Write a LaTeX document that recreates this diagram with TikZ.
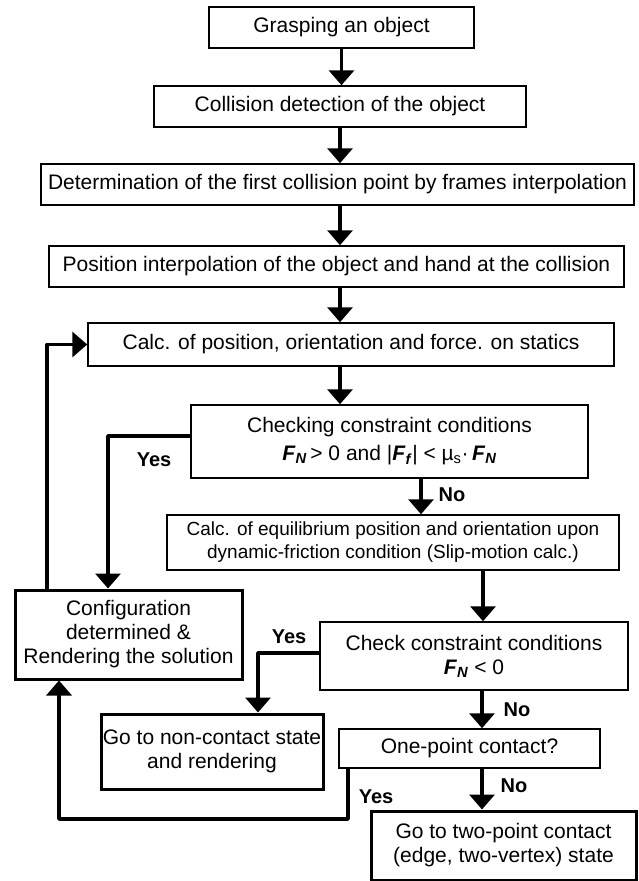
\documentclass[tikz,border=0pt]{standalone}
\usepackage{fontspec}
\setmainfont{Liberation Sans}
\usetikzlibrary{arrows.meta}
\newcommand{\FN}{\textbf{\textit{F}\textsubscript{\textit{N}}}}
\newcommand{\Ff}{\textbf{\textit{F}\textsubscript{\textit{f}}}}

\begin{document}
\begin{tikzpicture}[x=1pt, y=-1pt,
  box/.style={draw, line width=1.5pt, align=center, inner sep=0pt, font=\fontsize{21}{24}\selectfont},
  boldbox/.style={box, line width=3pt},
  arr/.style={line width=3.5pt, line join=round, -{Triangle[width=25pt,length=15pt]}},
  lbl/.style={font=\fontsize{20}{24}\selectfont\bfseries}]
  \useasboundingbox (0,0) rectangle (638,881);
  \node[box, minimum width=265pt, minimum height=41pt] (grasp) at (341.5,27.5) {Grasping an object};
  \node[box, minimum width=372pt, minimum height=41pt] (detect) at (340,106.5) {Collision detection of the object};
  \node[box, minimum width=593pt, minimum height=41pt] (firstpt) at (337.5,184.5) {Determination of the first collision point by frames interpolation};
  \node[box, minimum width=575pt, minimum height=41pt] (interp) at (336.5,266.5) {Position interpolation of the object and hand at the collision};
  \node[box, minimum width=526pt, minimum height=43pt] (statics) at (351,344.5) {Calc. of position, orientation and force. on statics};
  \node[box, minimum width=397pt, minimum height=73pt] (check) at (389.5,441.5) {Checking constraint conditions\\[4pt] \FN\,> 0 and |\Ff| < µ\textsubscript{s}·\,\FN};
  \node[box, minimum width=452pt, minimum height=55pt, font=\fontsize{19}{23}\selectfont] (slip) at (393,542.5) {Calc. of equilibrium position and orientation upon\\ dynamic-friction condition (Slip-motion calc.)};
  \node[boldbox, minimum width=227pt, minimum height=89pt] (config) at (128.5,634.5) {Configuration\\ determined \&\\ Rendering the solution};
  \node[box, minimum width=308pt, minimum height=68pt] (fncheck) at (474,656) {Check constraint conditions\\ \FN\ < 0};
  \node[boldbox, minimum width=222pt, minimum height=75pt] (noncont) at (212,751.5) {Go to non-contact state\\ and rendering};
  \node[box, minimum width=261pt, minimum height=39pt] (onept) at (469.5,748.5) {One-point contact?};
  \node[boldbox, minimum width=265pt, minimum height=69pt] (twopt) at (503.5,845.5) {Go to two-point contact\\ (edge, two-vertex) state};

  \draw[arr] (grasp.south) -- (grasp.south |- detect.north);
  \draw[arr] (detect.south) -- (detect.south |- firstpt.north);
  \draw[arr] (detect.south |- firstpt.south) -- (detect.south |- interp.north);
  \draw[arr] (detect.south |- interp.south) -- (detect.south |- statics.north);
  \draw[arr] (detect.south |- statics.south) -- (detect.south |- check.north);
  \draw[arr] ([xshift=31.5pt]check.south) -- ([xshift=31.5pt]check.south |- slip.north);
  \draw[arr] ([xshift=9pt]fncheck.north |- slip.south) -- ([xshift=9pt]fncheck.north);
  \draw[arr] ([xshift=8pt]fncheck.south) -- ([xshift=8pt]fncheck.south |- onept.north);
  \draw[arr] ([xshift=8pt]fncheck.south |- onept.south) -- ([xshift=8pt]fncheck.south |- twopt.north);

  \draw[arr] ([yshift=5.5pt]check.west) -| ([xshift=-20.5pt]config.north);
  \draw[arr] ([xshift=-81.5pt]config.north) |- (statics.west);
  \draw[arr] ([yshift=3pt]fncheck.west) -| ([xshift=46pt]noncont.north);
  \coordinate (back) at (59,819);
  \draw[arr] ([xshift=-121.5pt]onept.south) |- (back) -- ([xshift=-69.5pt]config.south);

  \node[lbl] (yes1) at (154,460) {Yes};
  \node[lbl] (no1) at (452,495) {No};
  \node[lbl] (yes2) at (289,637) {Yes};
  \node[lbl] (no2) at (517,710) {No};
  \node[lbl] (no3) at (514,786) {No};
  \node[lbl] (yes3) at (376,797) {Yes};
\end{tikzpicture}
\end{document}
